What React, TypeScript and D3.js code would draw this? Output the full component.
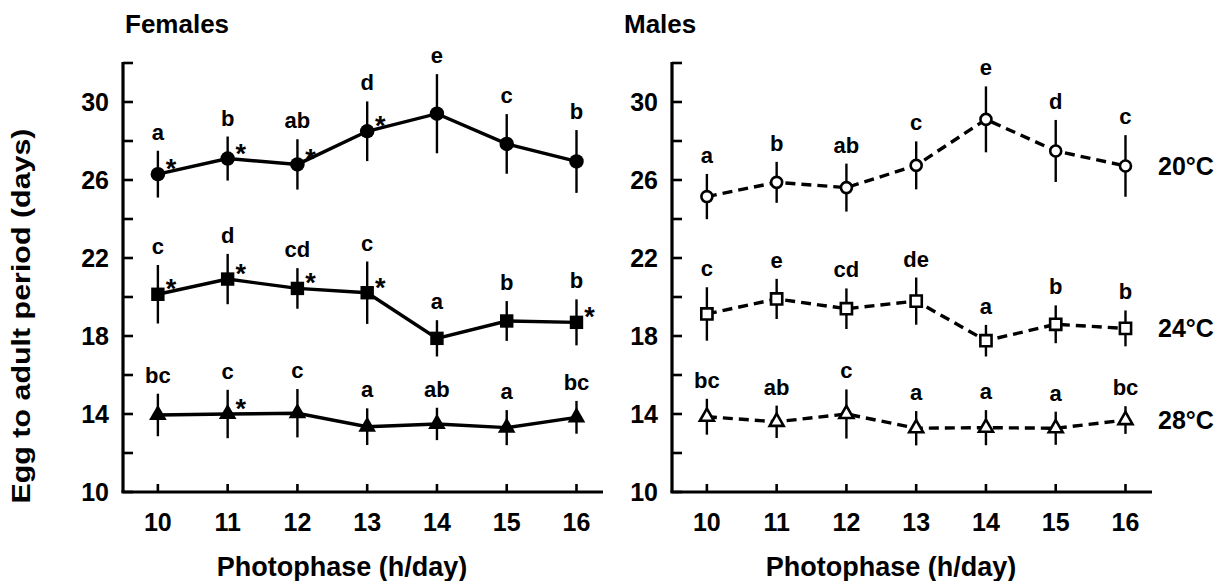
import { useEffect, useRef } from "react"
import * as d3 from "d3"

const photophase = [10, 11, 12, 13, 14, 15, 16]
const yTicks = [10, 12, 14, 16, 18, 20, 22, 24, 26, 28, 30, 32]
const yLabelTicks = [10, 14, 18, 22, 26, 30]
const temps = ["20°C", "24°C", "28°C"]

// females
const female20 = [26.3, 27.1, 26.8, 28.5, 29.4, 27.85, 26.95]
const female20Err = [1.2, 1.13, 1.29, 1.53, 2.03, 1.53, 1.61]
const female20Letters = ["a", "b", "ab", "d", "e", "c", "b"]
const female20Star = [true, true, true, true, false, false, false]

const female24 = [20.14, 20.92, 20.44, 20.22, 17.88, 18.77, 18.7]
const female24Err = [1.5, 1.29, 1.04, 1.6, 0.93, 1.02, 1.18]
const female24Letters = ["c", "d", "cd", "c", "a", "b", "b"]
const female24Star = [true, true, true, true, false, false, true]

const female28 = [13.95, 14.0, 14.04, 13.35, 13.49, 13.3, 13.83]
const female28Err = [1.09, 1.24, 1.24, 0.94, 0.83, 0.9, 0.84]
const female28Letters = ["bc", "c", "c", "a", "ab", "a", "bc"]
const female28Star = [false, true, false, false, false, false, false]

// males
const male20 = [25.15, 25.88, 25.61, 26.75, 29.11, 27.49, 26.72]
const male20Err = [1.16, 1.05, 1.23, 1.23, 1.69, 1.59, 1.58]
const male20Letters = ["a", "b", "ab", "c", "e", "d", "c"]

const male24 = [19.13, 19.9, 19.4, 19.79, 17.76, 18.6, 18.39]
const male24Err = [1.37, 1.03, 1.04, 1.21, 0.81, 0.97, 0.92]
const male24Letters = ["c", "e", "cd", "de", "a", "b", "b"]

const male28 = [13.86, 13.6, 14.0, 13.27, 13.3, 13.27, 13.69]
const male28Err = [0.92, 0.83, 1.26, 0.88, 0.9, 0.85, 0.71]
const male28Letters = ["bc", "ab", "c", "a", "a", "a", "bc"]

const noStar = [false, false, false, false, false, false, false]

const FONT = "'Liberation Sans', Arial, sans-serif"

export default function App() {
  const ref = useRef<SVGSVGElement>(null)

  useEffect(() => {
    const svg = d3.select(ref.current)
    svg.selectAll("*").remove()

    const y = d3.scaleLinear().domain([10, 32]).range([492, 63])

    const panels = [
      {
        title: "Females", titleX: 125, x0: 123, x1: 603, labelX: 342, hollow: false, dash: null,
        series: [
          { mean: female20, err: female20Err, letters: female20Letters, star: female20Star, sym: d3.symbolCircle },
          { mean: female24, err: female24Err, letters: female24Letters, star: female24Star, sym: d3.symbolSquare },
          { mean: female28, err: female28Err, letters: female28Letters, star: female28Star, sym: d3.symbolTriangle },
        ],
      },
      {
        title: "Males", titleX: 624, x0: 672, x1: 1152, labelX: 891, hollow: true, dash: "10,6",
        series: [
          { mean: male20, err: male20Err, letters: male20Letters, star: noStar, sym: d3.symbolCircle },
          { mean: male24, err: male24Err, letters: male24Letters, star: noStar, sym: d3.symbolSquare },
          { mean: male28, err: male28Err, letters: male28Letters, star: noStar, sym: d3.symbolTriangle },
        ],
      },
    ]

    const sizeFilled = new Map<any, number>([[d3.symbolCircle, 165], [d3.symbolSquare, 180], [d3.symbolTriangle, 135]])
    const sizeHollow = new Map<any, number>([[d3.symbolCircle, 95], [d3.symbolSquare, 125], [d3.symbolTriangle, 85]])

    panels.forEach((p) => {
      const x = d3.scaleLinear().domain([9.5, 16.38]).range([p.x0, p.x1])
      const g = svg.append("g")

      // axes
      g.append("line").attr("x1", p.x0).attr("x2", p.x0).attr("y1", y(32) - 1).attr("y2", y(10))
        .attr("stroke", "#000").attr("stroke-width", 3.2)
      g.append("line").attr("x1", p.x0 - 1.6).attr("x2", p.x1).attr("y1", y(10)).attr("y2", y(10))
        .attr("stroke", "#000").attr("stroke-width", 3.2)

      g.selectAll(".yt").data(yTicks).enter().append("line")
        .attr("x1", p.x0).attr("x2", p.x0 + 10).attr("y1", (d) => y(d)).attr("y2", (d) => y(d))
        .attr("stroke", "#000").attr("stroke-width", 2.6)
      g.selectAll(".yl").data(yLabelTicks).enter().append("text")
        .attr("x", p.x0 - 14).attr("y", (d) => y(d)).attr("dy", "0.36em")
        .attr("text-anchor", "end").attr("font-size", 25).attr("font-weight", "bold")
        .attr("font-family", FONT).text((d) => d)

      g.selectAll(".xt").data(photophase).enter().append("line")
        .attr("x1", (d) => x(d)).attr("x2", (d) => x(d)).attr("y1", y(10)).attr("y2", y(10) - 8)
        .attr("stroke", "#000").attr("stroke-width", 2.6)
      g.selectAll(".xl").data(photophase).enter().append("text")
        .attr("x", (d) => x(d)).attr("y", 531)
        .attr("text-anchor", "middle").attr("font-size", 25).attr("font-weight", "bold")
        .attr("font-family", FONT).text((d) => d)

      g.append("text").attr("x", p.labelX).attr("y", 576).attr("text-anchor", "middle")
        .attr("font-size", 27).attr("font-weight", "bold").attr("font-family", FONT)
        .text("Photophase (h/day)")
      g.append("text").attr("x", p.titleX).attr("y", 33)
        .attr("font-size", 26).attr("font-weight", "bold").attr("font-family", FONT)
        .text(p.title)

      p.series.forEach((s, si) => {
        const pts = photophase.map((v, i) => ({
          x: v, m: s.mean[i], e: s.err[i], letter: s.letters[i], star: s.star[i],
        }))

        g.selectAll(null).data(pts).enter().append("line")
          .attr("x1", (d) => x(d.x)).attr("x2", (d) => x(d.x))
          .attr("y1", (d) => y(d.m + d.e)).attr("y2", (d) => y(d.m - d.e))
          .attr("stroke", "#000").attr("stroke-width", 2.4)

        const line = d3.line<any>().x((d) => x(d.x)).y((d) => y(d.m))
        g.append("path").attr("d", line(pts)).attr("fill", "none")
          .attr("stroke", "#000").attr("stroke-width", 3.4)
          .attr("stroke-dasharray", p.dash)

        const sym = d3.symbol().type(s.sym).size((p.hollow ? sizeHollow : sizeFilled).get(s.sym)!)
        g.selectAll(null).data(pts).enter().append("path")
          .attr("d", sym()).attr("transform", (d) => `translate(${x(d.x)},${y(d.m)})`)
          .attr("fill", p.hollow ? "#fff" : "#000").attr("stroke", "#000")
          .attr("stroke-width", p.hollow ? 2.6 : 0)

        g.selectAll(null).data(pts).enter().append("text")
          .attr("x", (d) => x(d.x)).attr("y", (d) => y(d.m + d.e) - 11)
          .attr("text-anchor", "middle").attr("font-size", 22).attr("font-weight", "bold")
          .attr("font-family", FONT).text((d) => d.letter)

        g.selectAll(null).data(pts.filter((d) => d.star)).enter().append("text")
          .attr("x", (d) => x(d.x) + 13).attr("y", (d) => y(d.m) + 4)
          .attr("text-anchor", "middle").attr("font-size", 27).attr("font-weight", "bold")
          .attr("font-family", FONT).text("*")

        if (p.hollow) {
          g.append("text").attr("x", 1158).attr("y", y(s.mean[s.mean.length - 1])).attr("dy", "0.36em")
            .attr("font-size", 25).attr("font-weight", "bold").attr("font-family", FONT)
            .text(temps[si])
        }
      })
    })

    svg.append("text")
      .attr("transform", `translate(30,316) rotate(-90)`)
      .attr("text-anchor", "middle").attr("font-size", 26).attr("font-weight", "bold")
      .attr("font-family", FONT).attr("textLength", 375).attr("lengthAdjust", "spacingAndGlyphs")
      .text("Egg to adult period (days)")
  }, [])

  return (
    <svg ref={ref} width={1222} height={581}
      style={{ position: "absolute", left: 0, top: 0, background: "#fff" }} />
  )
}
